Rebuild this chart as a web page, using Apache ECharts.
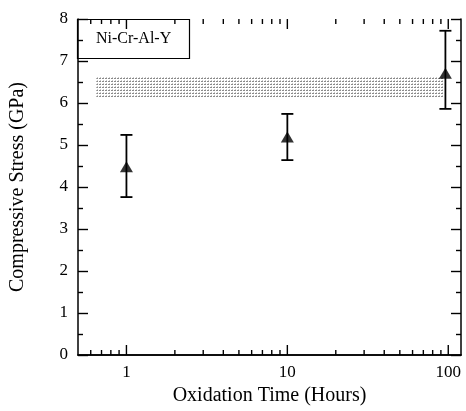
<!DOCTYPE html>
<html>
<head>
<meta charset="utf-8">
<script src="https://cdn.jsdelivr.net/npm/echarts@6/dist/echarts.min.js"></script>
<style>
html,body{margin:0;padding:0;background:#fff;}
#chart{width:466px;height:411px;}
</style>
</head>
<body>
<div id="chart"></div>
<script>
// Data
var times = [1, 10, 96];
var stress = [4.48, 5.19, 6.71];
var errLow = [3.76, 4.64, 5.86];
var errHigh = [5.24, 5.74, 7.72];
var bandX = [0.65, 94];
var bandY = [6.14, 6.62];
var majorXTicks = [1, 10, 100];
var minorXTicks = [0.6, 0.7, 0.8, 0.9, 2, 3, 4, 5, 6, 7, 8, 9, 20, 30, 40, 50, 60, 70, 80, 90];
var legendText = 'Ni-Cr-Al-Y';

var FONT = '"Liberation Serif", "DejaVu Serif", serif';
var chart = echarts.init(document.getElementById('chart'), null, {renderer: 'canvas'});

// stipple pattern for the shaded band
var pc = document.createElement('canvas');
pc.width = 3; pc.height = 3;
var pctx = pc.getContext('2d');
pctx.fillStyle = '#fff'; pctx.fillRect(0, 0, 3, 3);
pctx.fillStyle = '#8a8a8a'; pctx.fillRect(0, 0, 2, 1);
pctx.fillStyle = '#c8c8c8'; pctx.fillRect(1, 2, 1, 1);

var pts = times.map(function (t, i) { return [t, stress[i]]; });
var errData = times.map(function (t, i) { return [t, errLow[i], errHigh[i]]; });
var tickData = majorXTicks.map(function (v) { return [v, 0, 10]; })
  .concat(minorXTicks.map(function (v) { return [v, 0, 5]; }));

var hideEnds = function (v) {
  var l = Math.log10(v);
  return Math.abs(l - Math.round(l)) < 1e-6 ? String(Math.round(v)) : '';
};

function tickSeries(yVal, dir) {
  return {
    type: 'custom',
    xAxisIndex: 0, yAxisIndex: 0,
    silent: true,
    encode: {x: 0, y: 1},
    data: tickData,
    renderItem: function (params, api) {
      var v = api.value(0);
      var len = api.value(2);
      var p = api.coord([v, yVal]);
      return {
        type: 'line',
        shape: {x1: p[0], y1: p[1], x2: p[0], y2: p[1] + dir * len},
        style: {stroke: '#000', lineWidth: 1.4}
      };
    },
    z: 5
  };
}

var yAxisCommon = {
  type: 'value', min: 0, max: 8, interval: 1,
  axisLine: {show: true, lineStyle: {color: '#000', width: 1.5}},
  axisTick: {show: true, inside: true, length: 10, lineStyle: {color: '#000', width: 1.4}},
  minorTick: {show: true, splitNumber: 2, length: 5, lineStyle: {color: '#000', width: 1.4}},
  splitLine: {show: false}
};

var option = {
  animation: false,
  title: {
    text: legendText,
    left: 77, top: 19,
    padding: [12, 19, 12, 19],
    borderColor: '#000', borderWidth: 1.2,
    textStyle: {fontFamily: FONT, fontSize: 16, fontWeight: 'normal', color: '#000'}
  },
  grid: {left: 77, right: 5, top: 19, bottom: 56},
  xAxis: [{
    type: 'log', logBase: 10, min: 0.5, max: 120,
    position: 'bottom',
    name: 'Oxidation Time (Hours)', nameLocation: 'middle', nameGap: 29,
    nameTextStyle: {fontFamily: FONT, fontSize: 20, color: '#000'},
    axisLine: {show: true, lineStyle: {color: '#000', width: 1.5}},
    axisTick: {show: false},
    splitLine: {show: false},
    axisLabel: {showMinLabel: false, showMaxLabel: false, formatter: hideEnds, fontFamily: FONT, fontSize: 17, color: '#000', margin: 9}
  }, {
    type: 'log', logBase: 10, min: 0.5, max: 120,
    position: 'top',
    axisLine: {show: true, lineStyle: {color: '#000', width: 1.5}},
    axisTick: {show: false},
    splitLine: {show: false},
    axisLabel: {show: false}
  }],
  yAxis: [Object.assign({}, yAxisCommon, {
    position: 'left',
    name: 'Compressive Stress (GPa)', nameLocation: 'middle', nameGap: 50,
    nameTextStyle: {fontFamily: FONT, fontSize: 20, color: '#000'},
    axisLabel: {fontFamily: FONT, fontSize: 17, color: '#000', margin: 10}
  }), Object.assign({}, yAxisCommon, {
    position: 'right',
    axisLabel: {show: false}
  })],
  series: [
    tickSeries(0, -1),
    tickSeries(8, 1),
    {
      type: 'custom',
      xAxisIndex: 0, yAxisIndex: 0,
      encode: {x: 0, y: [1, 2]},
      data: errData,
      renderItem: function (params, api) {
        var x = api.value(0);
        var lo = api.coord([x, api.value(1)]);
        var hi = api.coord([x, api.value(2)]);
        var w = 6;
        var st = {stroke: '#000', lineWidth: 1.8};
        return {
          type: 'group',
          children: [
            {type: 'line', shape: {x1: lo[0], y1: lo[1], x2: hi[0], y2: hi[1]}, style: st},
            {type: 'line', shape: {x1: lo[0] - w, y1: lo[1], x2: lo[0] + w, y2: lo[1]}, style: st},
            {type: 'line', shape: {x1: hi[0] - w, y1: hi[1], x2: hi[0] + w, y2: hi[1]}, style: st}
          ]
        };
      },
      z: 3
    }, {
      type: 'scatter',
      xAxisIndex: 0, yAxisIndex: 0,
      data: pts,
      symbol: 'triangle',
      symbolSize: [13, 11],
      itemStyle: {color: '#000'},
      markArea: {
        silent: true,
        itemStyle: {color: {image: pc, repeat: 'repeat'}},
        data: [[{coord: [bandX[0], bandY[1]]}, {coord: [bandX[1], bandY[0]]}]]
      },
      z: 4
    }
  ]
};
chart.setOption(option);
</script>
</body>
</html>
